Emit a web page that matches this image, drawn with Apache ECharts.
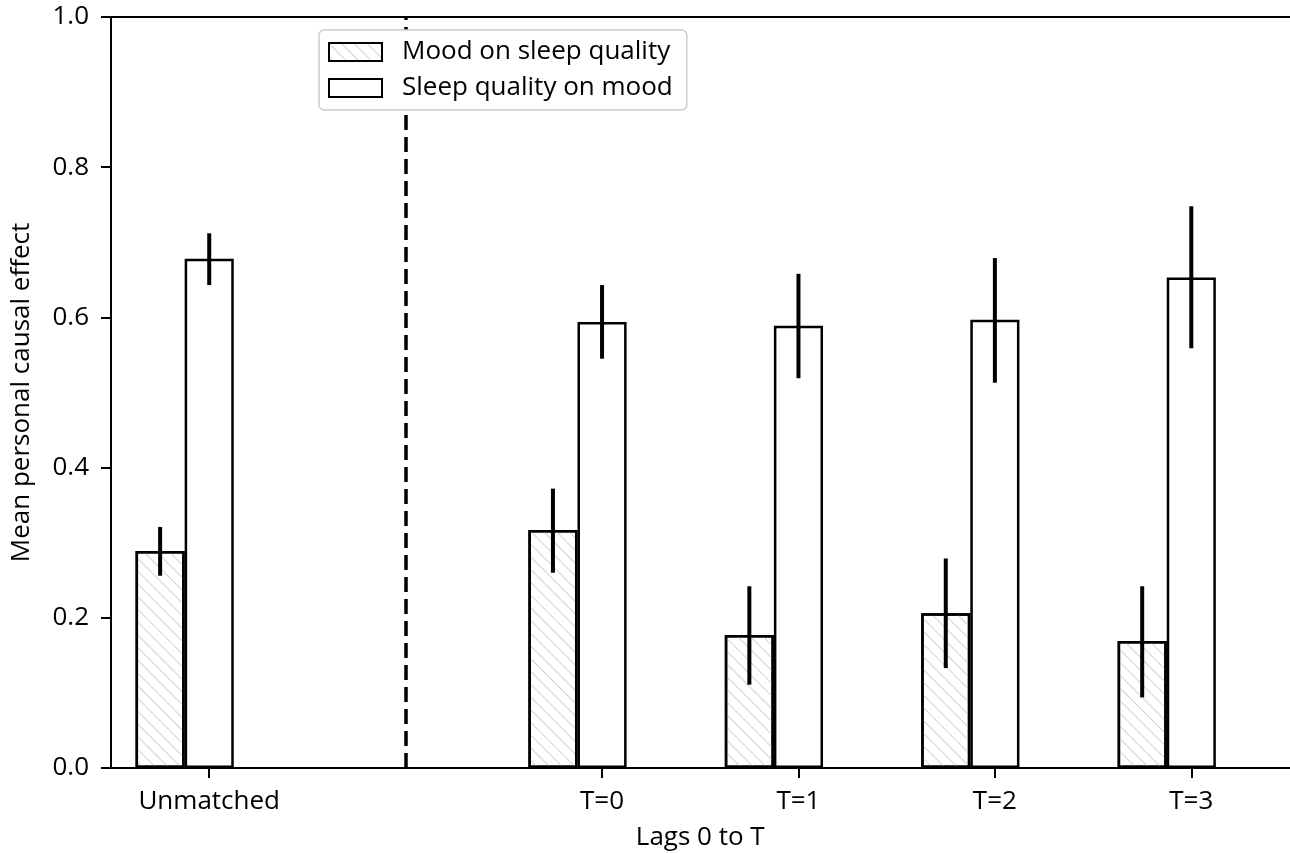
<!DOCTYPE html>
<html>
<head>
<meta charset="utf-8">
<script src="https://cdn.jsdelivr.net/npm/echarts@6/dist/echarts.min.js"></script>
<style>
html,body{margin:0;padding:0;background:#fff;}
#chart{width:1290px;height:853px;}
</style>
</head>
<body>
<div id="chart"></div>
<script>
var categories = ['Unmatched', '', 'T=0', 'T=1', 'T=2', 'T=3'];
var moodValues  = [0.289, null, 0.317, 0.177, 0.206, 0.169];
var moodLow     = [0.256, null, 0.260, 0.111, 0.133, 0.094];
var moodHigh    = [0.321, null, 0.372, 0.242, 0.279, 0.242];
var sleepValues = [0.678, null, 0.594, 0.589, 0.597, 0.653];
var sleepLow    = [0.643, null, 0.545, 0.519, 0.513, 0.559];
var sleepHigh   = [0.712, null, 0.643, 0.658, 0.679, 0.748];
var yTicks = [0, 0.2, 0.4, 0.6, 0.8, 1.0];
var separatorIndex = 1;

var FONT = 'Open Sans';

function errData(low, high) {
  var out = [];
  for (var i = 0; i < low.length; i++) {
    if (low[i] != null) out.push([i, low[i], high[i]]);
  }
  return out;
}

function errRender(offsetUnits) {
  return function (params, api) {
    var idx = api.value(0);
    var lo = api.coord([idx, api.value(1)]);
    var hi = api.coord([idx, api.value(2)]);
    var band = api.size([1, 0])[0];
    var x = lo[0] + offsetUnits * band;
    return {
      type: 'line',
      shape: { x1: x, y1: lo[1], x2: x, y2: hi[1] },
      style: { stroke: '#000', lineWidth: 4 }
    };
  };
}

var chart = echarts.init(document.getElementById('chart'), null, { renderer: 'canvas' });

var option = {
  animation: false,
  backgroundColor: '#fff',
  textStyle: { fontFamily: FONT, color: '#000' },
  grid: {
    left: 111, right: 0.5, top: 17, bottom: 85,
    containLabel: false,
    outerBoundsMode: 'none',
    show: false
  },
  legend: {
    data: ['Mood on sleep quality', 'Sleep quality on mood'],
    orient: 'vertical',
    left: 319, top: 30,
    z: 20,
    icon: 'rect',
    itemWidth: 53, itemHeight: 18,
    itemGap: 10,
    padding: [9, 14, 9, 9],
    borderColor: '#cccccc', borderWidth: 1.5, borderRadius: 5,
    backgroundColor: '#fff',
    textStyle: { fontFamily: FONT, fontSize: 26, color: '#000', padding: [0, 0, 0, 15] }
  },
  xAxis: [
    {
      type: 'category',
      data: categories,
      name: 'Lags 0 to T',
      nameLocation: 'middle',
      nameGap: 57,
      nameTextStyle: { fontFamily: FONT, fontSize: 26, color: '#000' },
      axisLine: { show: true, lineStyle: { color: '#000', width: 2 } },
      axisTick: {
        show: true, alignWithLabel: true, length: 10,
        interval: function (index, value) { return value !== ''; },
        lineStyle: { color: '#000', width: 2 }
      },
      axisLabel: { interval: 0, margin: 21, fontFamily: FONT, fontSize: 26, color: '#000' },
      splitLine: { show: false }
    },
    {
      type: 'category',
      data: categories,
      position: 'top',
      axisLine: { show: true, lineStyle: { color: '#000', width: 2 } },
      axisTick: { show: false },
      axisLabel: { show: false },
      splitLine: { show: false }
    }
  ],
  yAxis: {
    type: 'value',
    min: 0, max: 1, interval: 0.2,
    name: 'Mean personal causal effect',
    nameLocation: 'middle',
    nameGap: 76,
    nameTextStyle: { fontFamily: FONT, fontSize: 26, color: '#000' },
    axisLine: { show: true, lineStyle: { color: '#000', width: 2 } },
    axisTick: { show: true, length: 10, lineStyle: { color: '#000', width: 2 } },
    axisLabel: {
      margin: 22, fontFamily: FONT, fontSize: 26, color: '#000',
      formatter: function (v) { return v.toFixed(1); }
    },
    splitLine: { show: false }
  },
  series: [
    {
      name: 'Mood on sleep quality',
      type: 'bar',
      data: moodValues,
      barWidth: '25%',
      barGap: '0%',
      itemStyle: {
        color: '#ffffff',
        borderColor: '#000',
        borderWidth: 2.5,
        decal: {
          symbol: 'rect',
          symbolSize: 1,
          dashArrayX: [1, 0],
          dashArrayY: [1, 8],
          rotation: Math.PI / 4,
          color: '#d2d2d2'
        }
      },
      z: 2
    },
    {
      name: 'Sleep quality on mood',
      type: 'bar',
      data: sleepValues,
      barWidth: '25%',
      barGap: '0%',
      itemStyle: { color: '#ffffff', borderColor: '#000', borderWidth: 2.5 },
      markLine: {
        silent: true,
        symbol: ['none', 'none'],
        label: { show: false },
        lineStyle: { color: '#000', width: 3.5, type: [15, 7] },
        data: [{ xAxis: separatorIndex }]
      },
      z: 2
    },
    {
      name: 'spacer',
      type: 'bar',
      data: [],
      barWidth: '25%',
      barGap: '0%'
    },
    {
      name: 'moodErr',
      type: 'custom',
      data: errData(moodLow, moodHigh),
      renderItem: errRender(-0.25),
      z: 5,
      silent: true
    },
    {
      name: 'sleepErr',
      type: 'custom',
      data: errData(sleepLow, sleepHigh),
      renderItem: errRender(0),
      z: 5,
      silent: true
    }
  ]
};
chart.setOption(option);
</script>
</body>
</html>
